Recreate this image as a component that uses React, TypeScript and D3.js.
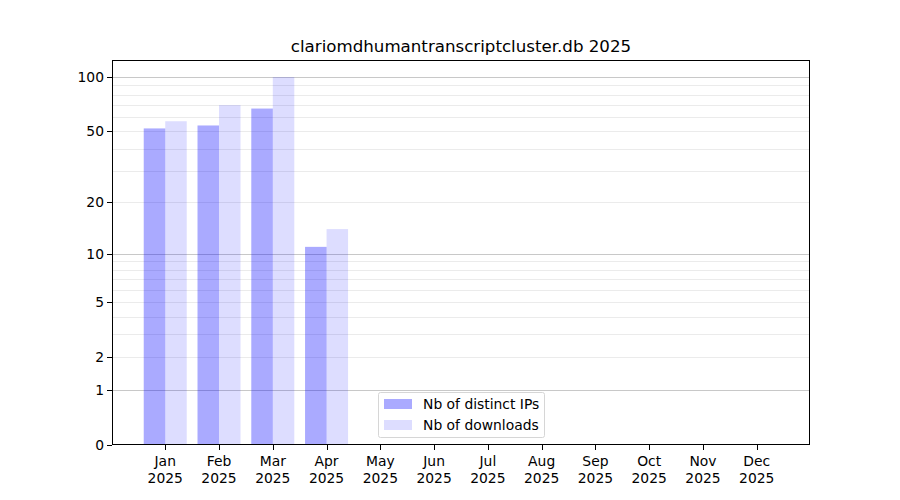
import React from "react";
import * as d3 from "d3";

const months = ["Jan", "Feb", "Mar", "Apr", "May", "Jun", "Jul", "Aug", "Sep", "Oct", "Nov", "Dec"];
const yearLabel = "2025";
const distinctIPs = [52, 54, 67, 11, 0, 0, 0, 0, 0, 0, 0, 0];
const downloads = [57, 70, 100, 14, 0, 0, 0, 0, 0, 0, 0, 0];
const yTicks = [0, 1, 2, 5, 10, 20, 50, 100];
const minorTicks = [2, 3, 4, 5, 6, 7, 8, 9, 20, 30, 40, 50, 60, 70, 80, 90];
const majorGrid = [1, 10, 100];
const title = "clariomdhumantranscriptcluster.db 2025";
const seriesNames = ["Nb of distinct IPs", "Nb of downloads"];

const W = 900, H = 500;
const L = 112, R = 810, T = 60, B = 445;
const FONT = "DejaVu Sans, sans-serif";
const FS = 13.89;

export default function App() {
  const x = d3.scaleLinear().domain([-0.99, 11.99]).range([L, R]);
  const y = d3.scaleSymlog().constant(1).domain([0, 124]).range([B, T]);
  const bw = 0.4;
  const bwPx = x(bw) - x(0);

  return (
    <svg width={W} height={H} style={{ position: "absolute", left: 0, top: 0, background: "#fff" }} fontFamily={FONT}>
      <rect x={0} y={0} width={W} height={H} fill="#fff" />
      {/* grid */}
      {minorTicks.map((t) => (
        <line key={"mn" + t} x1={L} x2={R} y1={Math.round(y(t)) + 0.5} y2={Math.round(y(t)) + 0.5} stroke="#ebebeb" strokeWidth={1} />
      ))}
      {majorGrid.map((t) => (
        <line key={"mj" + t} x1={L} x2={R} y1={Math.round(y(t)) + 0.5} y2={Math.round(y(t)) + 0.5} stroke="#c8c8c8" strokeWidth={1} />
      ))}
      {/* bars */}
      {months.map((m, i) => (
        <g key={m}>
          {distinctIPs[i] > 0 && (
            <rect x={x(i - 0.4)} y={y(distinctIPs[i])} width={bwPx} height={y(0) - y(distinctIPs[i])} fill="#0000ff" fillOpacity={0.333} />
          )}
          {downloads[i] > 0 && (
            <rect x={x(i)} y={y(downloads[i])} width={bwPx} height={y(0) - y(downloads[i])} fill="#0000ff" fillOpacity={0.135} />
          )}
        </g>
      ))}
      {/* frame */}
      <rect x={L + 0.5} y={T + 0.5} width={R - L - 1} height={B - T - 1} fill="none" stroke="#000" strokeWidth={1} />
      {/* y ticks */}
      {yTicks.map((t) => (
        <g key={"yt" + t}>
          <line x1={L - 5} x2={L} y1={Math.round(y(t)) + 0.5} y2={Math.round(y(t)) + 0.5} stroke="#000" />
          <text x={L - 8} y={y(t)} dy="0.35em" textAnchor="end" fontSize={FS} fill="#000">{t}</text>
        </g>
      ))}
      {/* x ticks */}
      {months.map((m, i) => (
        <g key={"xt" + m}>
          <line x1={Math.round(x(i)) + 0.5} x2={Math.round(x(i)) + 0.5} y1={B} y2={B + 5} stroke="#000" />
          <text x={x(i)} y={B + 21} textAnchor="middle" fontSize={FS} fill="#000">{m}</text>
          <text x={x(i)} y={B + 38} textAnchor="middle" fontSize={FS} fill="#000">{yearLabel}</text>
        </g>
      ))}
      {/* title */}
      <text x={(L + R) / 2} y={52} textAnchor="middle" fontSize={16.67} fill="#000">{title}</text>
      {/* legend */}
      <g>
        <rect x={378.5} y={392.5} width={166} height={45} rx={2} fill="#fff" fillOpacity={0.8} stroke="#d6d6d6" />
        <rect x={384} y={399} width={28} height={10} fill="#0000ff" fillOpacity={0.333} />
        <text x={423} y={404} dy="0.35em" fontSize={FS} fill="#000">{seriesNames[0]}</text>
        <rect x={384} y={420} width={28} height={10} fill="#0000ff" fillOpacity={0.135} />
        <text x={423} y={425} dy="0.35em" fontSize={FS} fill="#000">{seriesNames[1]}</text>
      </g>
    </svg>
  );
}
